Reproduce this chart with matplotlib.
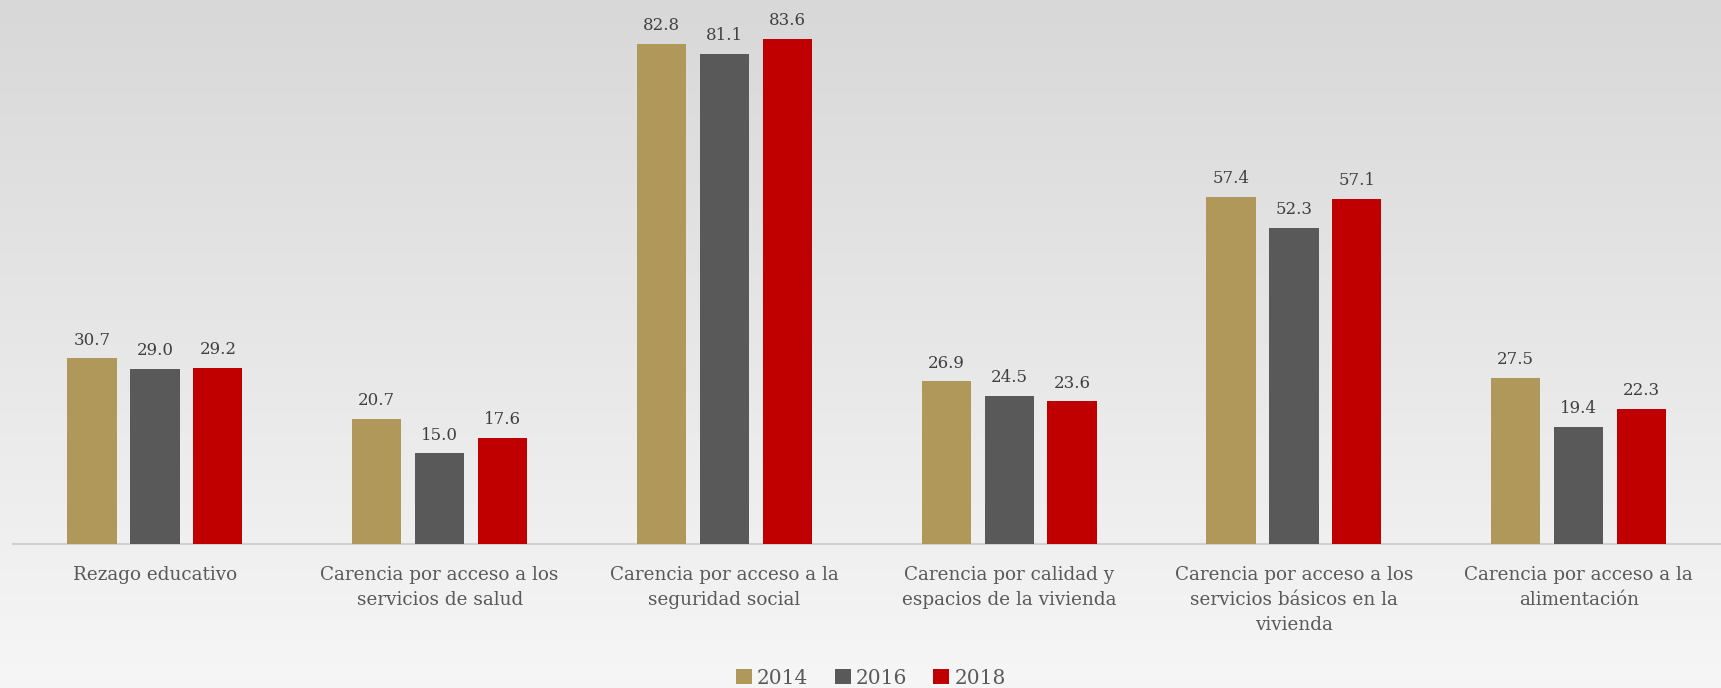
import numpy as np
import matplotlib
matplotlib.use('Agg')
import matplotlib.pyplot as plt

# datos
categorias = [
    'Rezago educativo',
    'Carencia por acceso a los\nservicios de salud',
    'Carencia por acceso a la\nseguridad social',
    'Carencia por calidad y\nespacios de la vivienda',
    'Carencia por acceso a los\nservicios básicos en la\nvivienda',
    'Carencia por acceso a la\nalimentación',
]
anios = ['2014', '2016', '2018']
v2014 = [30.7, 20.7, 82.8, 26.9, 57.4, 27.5]
v2016 = [29.0, 15.0, 81.1, 24.5, 52.3, 19.4]
v2018 = [29.2, 17.6, 83.6, 23.6, 57.1, 22.3]
colores = ['#AF985A', '#595959', '#C00000']

plt.rcParams['font.family'] = ['DejaVu Serif']
txt_color = '#595959'

fig = plt.figure(figsize=(17.21, 6.88), dpi=100)

# fondo degradado
bg = fig.add_axes([0, 0, 1, 1], zorder=-10)
grad = np.linspace(0, 1, 256).reshape(-1, 1)
bg.imshow(grad, aspect='auto', cmap=matplotlib.colors.LinearSegmentedColormap.from_list(
    'g', ['#d8d8d8', '#f6f6f6']), extent=[0, 1, 0, 1], origin='upper')
bg.axis('off')

ax = fig.add_axes([0.0073, 0.2093, 0.9927, 0.7907])
ax.patch.set_alpha(0)

x = np.arange(len(categorias))
ancho = 0.173
paso = 0.221
series = [v2014, v2016, v2018]
for k, (vals, c, lab) in enumerate(zip(series, colores, anios)):
    bars = ax.bar(x + (k - 1) * paso, vals, width=ancho, color=c, label=lab, zorder=3)
    for b, v in zip(bars, vals):
        ax.annotate(f'{v:.1f}', (b.get_x() + b.get_width() / 2, v),
                    xytext=(0, 7), textcoords='offset points',
                    ha='center', va='bottom', fontsize=12, color='#404040')

ax.set_xlim(-0.5, len(categorias) - 0.5)
ax.set_ylim(0, 90)
ax.set_yticks([])
ax.set_xticks(x)
ax.set_xticklabels(categorias, fontsize=13.2, color=txt_color, linespacing=1.5)
ax.tick_params(axis='x', length=0, pad=16)
for s in ['top', 'right', 'left']:
    ax.spines[s].set_visible(False)
ax.spines['bottom'].set_color('#d0d0d0')
ax.spines['bottom'].set_linewidth(1.5)

leg = ax.legend(loc='lower center', bbox_to_anchor=(0.506, -0.026), bbox_transform=fig.transFigure,
                ncol=3, frameon=False, fontsize=14.5, handlelength=0.8, handleheight=0.8,
                handletextpad=0.25, columnspacing=1.3)
for t in leg.get_texts():
    t.set_color(txt_color)

fig.savefig('out.png', dpi=100)
